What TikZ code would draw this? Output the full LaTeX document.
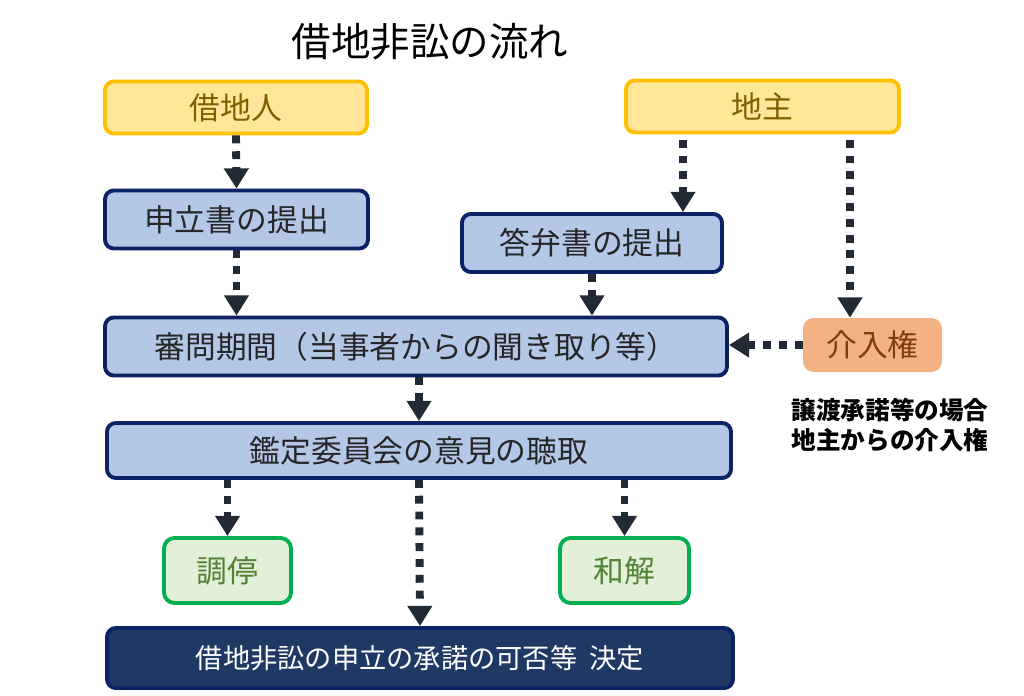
\documentclass[tikz,border=0pt]{standalone}
\usepackage{fontspec}
\setmainfont{Noto Sans CJK JP}
\usepackage{xcolor}
\usetikzlibrary{arrows.meta}

\definecolor{partyfill}{HTML}{FFE699}
\definecolor{partyline}{HTML}{FFC000}
\definecolor{partytext}{HTML}{7F6000}
\definecolor{stepfill}{HTML}{B4C7E7}
\definecolor{stepline}{HTML}{0B2265}
\definecolor{rightfill}{HTML}{F4B183}
\definecolor{righttext}{HTML}{843C0C}
\definecolor{endfill}{HTML}{E2F0D9}
\definecolor{endline}{HTML}{00B050}
\definecolor{endtext}{HTML}{548235}
\definecolor{finalfill}{HTML}{1F3864}
\definecolor{arrowcol}{HTML}{222A35}

\begin{document}
\begin{tikzpicture}[
    party/.style={draw=partyline, fill=partyfill, text=partytext, line width=2.2pt,
        rounded corners=5pt, inner sep=0pt, minimum height=1.04cm, font=\fontsize{17.5}{20}\selectfont},
    stage/.style={draw=stepline, fill=stepfill, text=black!85, line width=2.2pt,
        rounded corners=5pt, inner sep=0pt, minimum height=1.16cm, font=\fontsize{17.5}{20}\selectfont},
    outcome/.style={draw=endline, fill=endfill, text=endtext, line width=2.2pt,
        rounded corners=6pt, inner sep=0pt, minimum width=2.54cm, minimum height=1.3cm,
        font=\fontsize{17.5}{20}\selectfont},
    flow/.style={draw=arrowcol, line width=4.5pt, dash pattern=on 4.5pt off 4.5pt,
        -{Triangle[width=13.5pt,length=11.5pt]}}
]
        \useasboundingbox (0,0) rectangle (20.48,13.9);

        % Pieces
        \node (title) at (8.6, 13.06) {\fontsize{22.5}{26}\selectfont 借地非訟の流れ};
        \node[party, minimum width=5.24cm] (shakuchi) at (4.72, 11.75) {借地人};
        \node[party, minimum width=5.46cm] (jinushi) at (15.25, 11.77) {地主};
        \node[stage, minimum width=5.26cm] (moshitate) at (4.73, 9.51) {申立書の提出};
        \node[stage, minimum width=5.2cm] (toben) at (11.84, 9.04) {答弁書の提出};
        \node[stage, minimum width=12.44cm] (shinmon) at (8.32, 6.97) {審問期間（当事者からの聞き取り等）};
        \node[fill=rightfill, text=righttext, rounded corners=6pt, inner sep=0pt,
            minimum width=2.78cm, minimum height=1.08cm, font=\fontsize{17.5}{20}\selectfont]
            (kainyu) at (17.45, 7.0) {介入権};
        \node[align=center, font=\fontsize{14}{17.5}\selectfont\bfseries] (note) at (17.8, 5.4)
            {譲渡承諾等の場合\\地主からの介入権};
        \node[stage, minimum width=12.48cm, minimum height=1.1cm] (kantei) at (8.38, 4.89) {鑑定委員会の意見の聴取};
        \node[outcome] (chotei) at (4.55, 2.49) {調停};
        \node[outcome, minimum width=2.58cm] (wakai) at (12.49, 2.49) {和解};
        \node[stage, fill=finalfill, text=white, minimum width=12.52cm, minimum height=1.2cm,
            font=\fontsize{15.5}{19}\selectfont] (kettei) at (8.4, 0.74) {借地非訟の申立の承諾の可否等\ \ 決定};

        % Columns for the landlord's arrows
        \coordinate (colA) at (13.66, 0);
        \coordinate (colB) at (17.0, 0);

        % Arrows
        \draw[flow] (shakuchi.south) -- (moshitate.north);
        \draw[flow] (moshitate.south) -- (moshitate.south |- shinmon.north);
        \draw[flow, shorten <=3pt] (jinushi.south -| colA) -- (toben.north -| colA);
        \draw[flow, shorten <=3pt] (jinushi.south -| colB) -- (kainyu.north -| colB);
        \draw[flow] (toben.south) -- (toben.south |- shinmon.north);
        \draw[flow] (kainyu.west) -- (kainyu.west -| shinmon.east);
        \draw[flow] (shinmon.south -| kantei.north) -- (kantei.north);
        \draw[flow] (kantei.south -| chotei.north) -- (chotei.north);
        \draw[flow] (kantei.south) -- (kettei.north);
        \draw[flow] (kantei.south -| wakai.north) -- (wakai.north);
\end{tikzpicture}
\end{document}
